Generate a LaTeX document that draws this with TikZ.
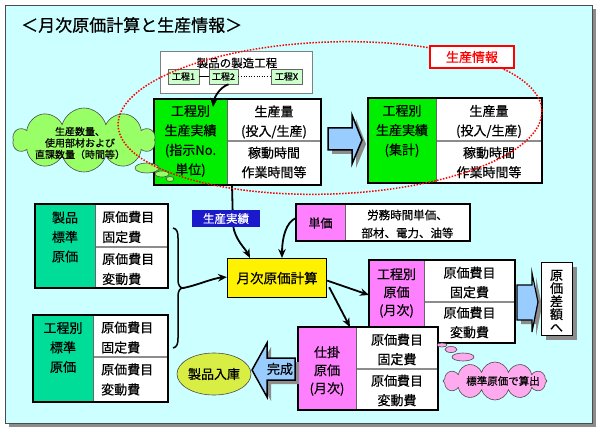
\documentclass[tikz,border=0pt]{standalone}
\usepackage{fontspec}
\setmainfont{Noto Sans CJK JP}[FakeBold=0.6]
\usetikzlibrary{arrows.meta,shapes.symbols,shapes.geometric,calc}
\definecolor{bgc}{HTML}{CCFFFF}
\definecolor{grn}{HTML}{00EE00}
\definecolor{tealc}{HTML}{00DD99}
\definecolor{pnk}{HTML}{FF80FF}
\definecolor{arrb}{HTML}{99CCFF}
\definecolor{cloudg}{HTML}{99FF66}
\definecolor{cloudp}{HTML}{FFAAEE}
\definecolor{ylg}{HTML}{D8EE44}
\definecolor{lblb}{HTML}{1A1ACC}
\definecolor{pbox}{HTML}{CCFFCC}
\definecolor{shd}{HTML}{8C8C8C}
\begin{document}
\begin{tikzpicture}[x=1pt,y=-1pt,
  cell/.style={draw=none,inner sep=0pt,outer sep=0pt,anchor=north west},
  frame/.style={draw=black,line width=1.8pt,inner sep=0pt,outer sep=0pt,anchor=north west},
  divl/.style={draw=black!45,line width=1.2pt},
  vdiv/.style={draw=black!60,line width=0.9pt},
  txa/.style={font=\fontsize{13}{19.5}\selectfont,align=center,inner sep=0pt},
  txl/.style={font=\fontsize{13}{20}\selectfont,align=left,inner sep=0pt,anchor=west},
  txp/.style={font=\fontsize{13}{18}\selectfont,align=center,inner sep=0pt},
  conn/.style={line width=1.8pt,-{Stealth[length=9pt,width=7.5pt]}},
  pstep/.style={draw=black!60,fill=pbox,line width=0.6pt,minimum height=15pt,inner sep=0pt,font=\fontsize{9}{10}\selectfont},
  bubg/.style={draw=black!70,fill=cloudg,line width=0.6pt},
  bubp/.style={draw=black!70,fill=cloudp,line width=0.6pt}]
\useasboundingbox (0,0) rectangle (600,433);
% panel
\fill[shd] (9,9) rectangle (596,427);
\node[draw=black!70,fill=bgc,line width=0.8pt,minimum width=587pt,minimum height=418pt,anchor=north west,inner sep=0pt] (panel) at (5,5) {};
\node[font=\fontsize{17}{20}\selectfont,anchor=west,inner sep=0pt] (title) at (21,25) {＜月次原価計算と生産情報＞};
% process box
\node[draw=black!50,fill=white,line width=0.8pt,minimum width=152pt,minimum height=42pt,anchor=north west,inner sep=0pt] (proc) at (160,51) {};
\node[font=\fontsize{11.5}{14}\selectfont,inner sep=0pt] (proct) at (237,63) {製品の製造工程};
\node[pstep,minimum width=31pt] (p1) at (183.5,76.5) {工程1};
\node[pstep,minimum width=29pt] (p2) at (223.5,76.5) {工程2};
\node[pstep,minimum width=31pt] (pX) at (286.5,76.5) {工程X};
\draw[line width=0.6pt] (p1) -- (p2);
\draw[line width=0.6pt,dotted] (p2) -- (pX);
% T1
\node[cell,fill=grn,minimum width=73pt,minimum height=86pt] (t1L) at (154,99) {};
\node[cell,fill=white,minimum width=94pt,minimum height=42pt] (t1a) at (227,99) {};
\node[cell,fill=white,minimum width=94pt,minimum height=44pt] (t1b) at (227,141) {};
\draw[divl] (t1b.north west) -- (t1b.north east);
\draw[vdiv] (t1a.north west) -- (t1b.south west);
\node[frame,minimum width=167pt,minimum height=86pt] (t1) at (154,99) {};
\node[txa] (t1Lt) at (190.5,141) {工程別\\生産実績\\(指示No.\\単位)};
\node[txa] (t1at) at (274,122) {生産量\\(投入/生産)};
\node[txa] (t1bt) at (274,162.5) {稼動時間\\作業時間等};
\coordinate (t1in) at (213,107);
\draw[conn] ([xshift=5pt]p2.south) .. controls +(-9,3) and +(1,-9) .. (t1in);
% T2
\node[cell,fill=grn,minimum width=68pt,minimum height=85pt] (t2L) at (368,98) {};
\node[cell,fill=white,minimum width=106pt,minimum height=43pt] (t2a) at (436,98) {};
\node[cell,fill=white,minimum width=106pt,minimum height=42pt] (t2b) at (436,141) {};
\draw[divl] (t2b.north west) -- (t2b.north east);
\draw[vdiv] (t2a.north west) -- (t2b.south west);
\node[frame,minimum width=174pt,minimum height=85pt] (t2) at (368,98) {};
\node[txa] (t2Lt) at (402,131) {工程別\\生産実績\\(集計)};
\node[txa] (t2at) at (489,121.5) {生産量\\(投入/生産)};
\node[txa] (t2bt) at (489,162.5) {稼動時間\\作業時間等};
% big arrow T1 -> T2
\fill[shd] (332,132) -- (356,132) -- (356,119) -- (366,144) -- (356,168) -- (356,154) -- (332,154) -- cycle;
\draw[fill=arrb,line width=1.5pt] (328,128) -- (352,128) -- (352,115) -- (362,140) -- (352,164) -- (352,150) -- (328,150) -- cycle;
% T3
\node[cell,fill=tealc,minimum width=60pt,minimum height=84pt] (t3L) at (35,204) {};
\node[cell,fill=white,minimum width=73pt,minimum height=43pt] (t3a) at (95,204) {};
\node[cell,fill=white,minimum width=73pt,minimum height=41pt] (t3b) at (95,247) {};
\draw[divl] (t3b.north west) -- (t3b.north east);
\draw[vdiv] (t3a.north west) -- (t3b.south west);
\node[frame,minimum width=133pt,minimum height=84pt] (t3) at (35,204) {};
\node[txa] (t3Lt) at (65,237) {製品\\標準\\原価};
\node[txl] (t3at) at (102,227) {原価費目\\固定費};
\node[txl] (t3bt) at (102,269) {原価費目\\変動費};
% T4
\node[cell,fill=tealc,minimum width=60pt,minimum height=87pt] (t4L) at (33,315) {};
\node[cell,fill=white,minimum width=75pt,minimum height=42pt] (t4a) at (93,315) {};
\node[cell,fill=white,minimum width=75pt,minimum height=45pt] (t4b) at (93,357) {};
\draw[divl] (t4b.north west) -- (t4b.north east);
\draw[vdiv] (t4a.north west) -- (t4b.south west);
\node[frame,minimum width=135pt,minimum height=87pt] (t4) at (33,315) {};
\node[txa] (t4Lt) at (63,347.5) {工程別\\標準\\原価};
\node[txl] (t4at) at (101,337.5) {原価費目\\固定費};
\node[txl] (t4bt) at (101,379.5) {原価費目\\変動費};
% T5 unit price
\node[cell,fill=pnk,minimum width=49pt,minimum height=37pt] (t5L) at (296,204) {};
\node[cell,fill=white,minimum width=125pt,minimum height=37pt] (t5a) at (345,204) {};
\draw[vdiv] (t5a.north west) -- (t5a.south west);
\node[frame,minimum width=174pt,minimum height=37pt] (t5) at (296,204) {};
\node[font=\fontsize{12}{14}\selectfont,inner sep=0pt] (t5Lt) at (320.5,223) {単価};
\node[font=\fontsize{11.5}{18}\selectfont,align=center,inner sep=0pt] (t5at) at (407.5,224) {労務時間単価、\\部材、電力、油等};
% T6
\node[cell,fill=pnk,minimum width=55pt,minimum height=83pt] (t6L) at (369,260) {};
\node[cell,fill=white,minimum width=91pt,minimum height=42pt] (t6a) at (424,260) {};
\node[cell,fill=white,minimum width=91pt,minimum height=41pt] (t6b) at (424,302) {};
\draw[divl] (t6b.north west) -- (t6b.north east);
\draw[vdiv] (t6a.north west) -- (t6b.south west);
\node[frame,minimum width=146pt,minimum height=83pt] (t6) at (369,260) {};
\node[txp] (t6Lt) at (396.5,293) {工程別\\原価\\(月次)};
\node[txa] (t6at) at (469.5,282.5) {原価費目\\固定費};
\node[txa] (t6bt) at (469.5,322.5) {原価費目\\変動費};
% T7
\node[cell,fill=pnk,minimum width=58pt,minimum height=83pt] (t7L) at (298,327) {};
\node[cell,fill=white,minimum width=82pt,minimum height=42pt] (t7a) at (356,327) {};
\node[cell,fill=white,minimum width=82pt,minimum height=41pt] (t7b) at (356,369) {};
\draw[divl] (t7b.north west) -- (t7b.north east);
\draw[vdiv] (t7a.north west) -- (t7b.south west);
\node[frame,minimum width=140pt,minimum height=83pt] (t7) at (298,327) {};
\node[txp] (t7Lt) at (327,371) {仕掛\\原価\\(月次)};
\node[txa] (t7at) at (397,349.5) {原価費目\\固定費};
\node[txa] (t7bt) at (397,390.5) {原価費目\\変動費};
% monthly cost calc box
\node[draw=black,line width=1.2pt,fill=yellow,minimum width=99pt,minimum height=39pt,anchor=north west,inner sep=0pt,font=\fontsize{13.5}{15}\selectfont] (gk) at (227,258) {月次原価計算};
% brace
\coordinate (btip) at (183,288);
\draw[line width=1.5pt] (173,228) .. controls (177,229) and (178,232) .. (178,238) -- (178,280) .. controls (178,285) and (180,288) .. (btip) .. controls (180,288) and (178,291) .. (178,296) -- (178,338) .. controls (178,344) and (177,347) .. (173,348);
% connectors
\draw[conn] ([xshift=78pt]t1.south west) -- ++(1,40) .. controls +(2,15) and +(-5,-10) .. ([xshift=23pt]gk.north west);
\node[fill=lblb,text=white,font=\fontsize{11.5}{13}\selectfont,minimum width=68pt,minimum height=17pt,inner sep=0pt] (jis) at (226,218.5) {生産実績};
\draw[conn] ([yshift=4.5pt]t5.west) .. controls +(-10,4) and +(0,-20) .. ([xshift=55pt]gk.north west);
\draw[conn] (btip) .. controls +(12,-2) and +(-14,1) .. ([yshift=1pt]gk.west);
\draw[conn] ([yshift=-2.5pt]gk.east) -- ([yshift=6.5pt]t6.west);
\draw[conn] ([shift={(2,-11)}]gk.south east) -- ([xshift=52pt]t7.north west);
% arrow to cost variance
\fill[shd] (521,289) -- (536,289) -- (536,277) -- (542,306) -- (536,336) -- (536,324) -- (521,324) -- cycle;
\draw[fill=arrb,line width=1.2pt] (517,285) -- (532,285) -- (532,273) -- (538,302) -- (532,332) -- (532,320) -- (517,320) -- cycle;
\fill[shd] (546,267) rectangle (577,340);
\node[draw=black,line width=1.2pt,fill=white,minimum width=31pt,minimum height=73pt,anchor=north west,inner sep=0pt] (sagaku) at (541,262) {};
\node[font=\fontsize{13}{13}\selectfont,align=center,inner sep=0pt] (sagakut) at (556.5,301) {原\\価\\差\\額\\へ};
% completion arrow
\fill[shd] (299,362) -- (271,362) -- (271,347) -- (256,374) -- (271,401) -- (271,384) -- (299,384) -- cycle;
\draw[fill=arrb,line width=1.5pt] (295,358) -- (267,358) -- (267,343) -- (252,370) -- (267,397) -- (267,380) -- (295,380) -- cycle;
\node[font=\fontsize{13}{15}\selectfont,inner sep=0pt] (kansei) at (280,369) {完成};
\node[ellipse,draw=black!70,fill=ylg,line width=0.6pt,minimum width=74pt,minimum height=42pt,inner sep=0pt,font=\fontsize{13}{15}\selectfont] (nyuko) at (214,374) {製品入庫};
% clouds
\node[cloud,cloud puffs=10,cloud ignores aspect,draw=black!70,fill=cloudg,line width=0.6pt,minimum width=142pt,minimum height=64pt,inner sep=0pt] (cg) at (84,140) {};
\draw[bubg] (147,168) ellipse [x radius=12,y radius=5];
\draw[bubg] (162,174) ellipse [x radius=7,y radius=3];
\draw[bubg] (170,179) ellipse [x radius=4,y radius=2.5];
\node[font=\fontsize{10}{11.5}\selectfont,align=center,inner sep=0pt] (cgt) at (80,143) {生産数量、\\使用部材および\\直課数量（時間等）};
\draw[bubp] (442,345) ellipse [x radius=5,y radius=2];
\draw[bubp] (451,349.5) ellipse [x radius=6,y radius=3];
\draw[bubp] (463,357) ellipse [x radius=11,y radius=4];
\node[cloud,cloud puffs=12,cloud ignores aspect,draw=black!70,fill=cloudp,line width=0.6pt,minimum width=104pt,minimum height=38pt,inner sep=0pt] (cp) at (495,381) {};
\node[font=\fontsize{10.5}{12}\selectfont,inner sep=0pt] (cpt) at (503,381) {標準原価で算出};
% production info ellipse
\draw[red,line width=1.5pt,dash pattern=on 1.5pt off 1.5pt,rotate around={2:(330,118)}] (330,118) ellipse [x radius=212,y radius=76];
\node[draw=red,line width=1.2pt,fill=white,text=red,minimum width=84pt,minimum height=22pt,inner sep=0pt,font=\fontsize{13}{15}\selectfont] (seisan) at (472,57) {生産情報};
\end{tikzpicture}
\end{document}
